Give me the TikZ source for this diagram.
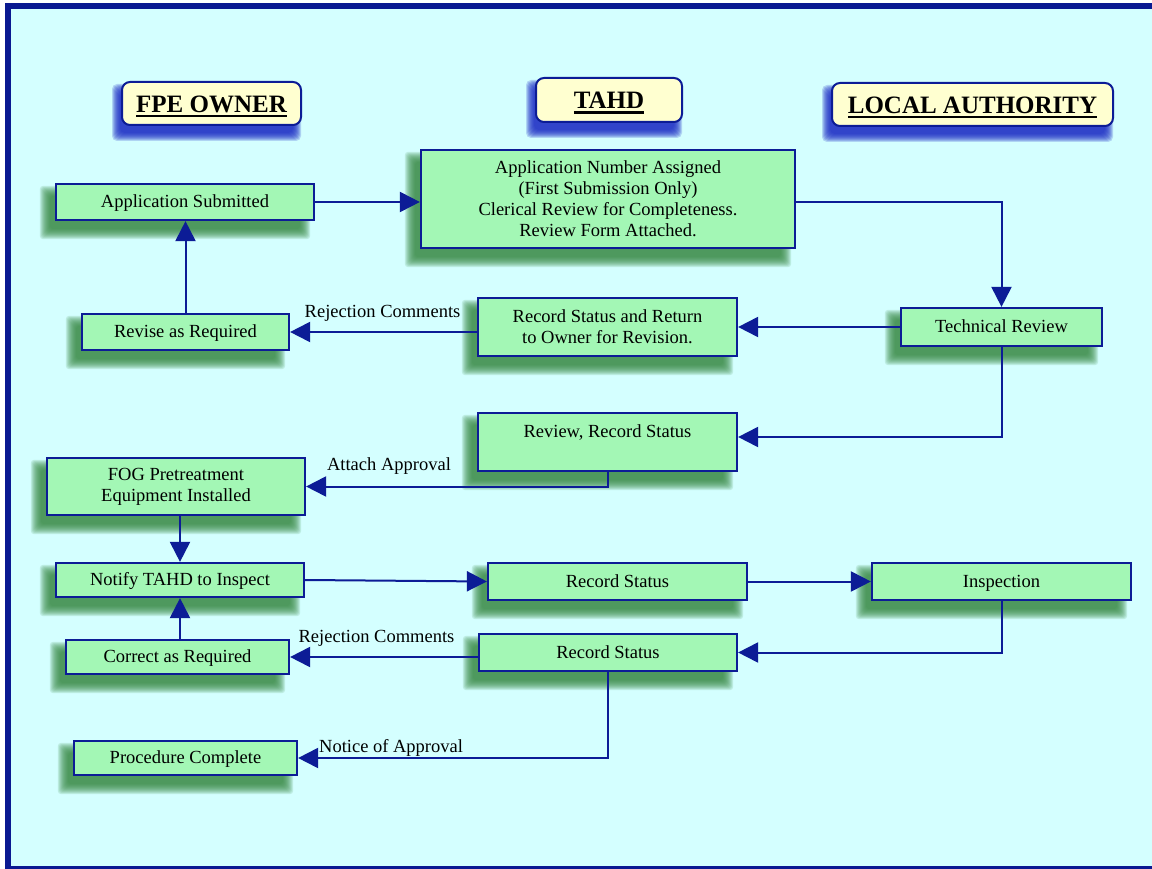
\documentclass[tikz,border=0pt]{standalone}
\usepackage{fontspec}
\setmainfont{Liberation Serif}
\usetikzlibrary{arrows.meta}
\definecolor{framebl}{RGB}{10,25,145}
\definecolor{bgcyan}{RGB}{212,255,255}
\definecolor{boxgreen}{RGB}{163,247,181}
\definecolor{shgreen}{RGB}{55,135,65}
\definecolor{hdryel}{RGB}{255,255,208}
\definecolor{shblue}{RGB}{25,40,195}
\definecolor{linebl}{RGB}{12,28,150}
\pgfdeclarelayer{back}
\pgfdeclarelayer{shad}
\pgfsetlayers{back,shad,main}
\newcommand\bxfont{\fontsize{18.5pt}{21.1pt}\selectfont}
\newcommand\hdfont{\fontsize{25pt}{30pt}\selectfont\bfseries}
\newcommand\hul[1]{\setbox0=\hbox{#1}\rlap{\smash{\rule[-4.6pt]{\wd0}{2.3pt}}}\box0}
\newcommand\gshad[1]{\foreach \e in {0,1,...,10}{\fill[shgreen,opacity=0.15,rounded corners=3pt] ([shift={(-15+\e,3+\e)}]#1.north west) rectangle ([shift={(-5-\e,18-\e)}]#1.south east);}}
\newcommand\bshad[1]{\foreach \e in {0,1,...,8}{\fill[shblue,opacity=0.2,rounded corners=5pt] ([shift={(-9+\e,3+\e)}]#1.north west) rectangle ([shift={(-1-\e,15-\e)}]#1.south east);}}
\begin{document}
\begin{tikzpicture}[x=1pt,y=-1pt,
  gbox/.style={draw=linebl, line width=2.2pt, fill=boxgreen, inner sep=0pt, font=\bxfont, align=center, text=black},
  one/.style={text height=13pt, text depth=2pt},
  hbox/.style={draw=linebl, line width=2pt, fill=hdryel, rounded corners=8pt, inner sep=0pt, font=\hdfont, text height=18pt, text depth=0pt, text=black},
  arr/.style={draw=linebl, line width=2pt, -{Triangle[length=20pt,width=20pt]}},
  lbl/.style={font=\bxfont, anchor=base, inner sep=0pt, text=black}]
\useasboundingbox (0,0) rectangle (1152,869);
\begin{pgfonlayer}{back}
\fill[white] (0,0) rectangle (1152,869);
\fill[framebl] (5,3) rectangle (1160,875);
\fill[bgcyan] (11,9) rectangle (1160,866);
\end{pgfonlayer}
% headers
\node[hbox, minimum width=179pt, minimum height=43pt] (h1) at (211.5,103.5) {\hul{FPE OWNER}};
\node[hbox, minimum width=146pt, minimum height=44pt] (h2) at (609,100) {\hul{TAHD}};
\node[hbox, minimum width=281pt, minimum height=43pt] (h3) at (972.5,104.5) {\hul{LOCAL AUTHORITY}};
% boxes
\node[gbox, one, minimum width=258pt, minimum height=36pt] (as) at (185,202) {Application Submitted};
\node[gbox, minimum width=374pt, minimum height=98pt] (an) at (608,199) {Application Number Assigned\\(First Submission Only)\\Clerical Review for Completeness.\\Review Form Attached.};
\node[gbox, one, minimum width=201pt, minimum height=38pt] (tr) at (1001.5,327) {Technical Review};
\node[gbox, one, minimum width=207pt, minimum height=36pt] (rv) at (185.5,332) {Revise as Required};
\node[gbox, minimum width=259pt, minimum height=58pt] (rr) at (607.5,327) {Record Status and Return\\to Owner for Revision.};
\node[gbox, minimum width=259pt, minimum height=58pt] (rw) at (607.5,442) {Review, Record Status\\\mbox{}};
\node[gbox, minimum width=258pt, minimum height=57pt] (fog) at (176,486.5) {FOG Pretreatment\\Equipment Installed};
\node[gbox, one, minimum width=248pt, minimum height=34pt] (nt) at (180,580) {Notify TAHD to Inspect};
\node[gbox, one, minimum width=223pt, minimum height=34pt] (ca) at (177.5,657) {Correct as Required};
\node[gbox, one, minimum width=223pt, minimum height=34pt] (pc) at (185.5,758) {Procedure Complete};
\node[gbox, one, minimum width=259pt, minimum height=37pt] (rs1) at (617.5,581.5) {Record Status};
\node[gbox, one, minimum width=259pt, minimum height=37pt] (ins) at (1001.5,581.5) {Inspection};
\node[gbox, one, minimum width=258pt, minimum height=37pt] (rs2) at (608,652.5) {Record Status};
% shadows
\begin{pgfonlayer}{shad}
\bshad{h1}\bshad{h2}\bshad{h3}
\gshad{as}\gshad{an}\gshad{tr}\gshad{rv}\gshad{rr}\gshad{rw}\gshad{fog}
\gshad{nt}\gshad{ca}\gshad{pc}\gshad{rs1}\gshad{ins}\gshad{rs2}
\end{pgfonlayer}
% connectors
\draw[arr] (as.east) -- (as.east -| an.west);
\draw[arr] ([yshift=-3pt]an.east) -| (tr.north);
\draw[arr] (tr.west) -- (rr.east);
\draw[arr] (rr.west |- rv.east) -- node[lbl, pos=0.505, yshift=14pt] {Rejection Comments} (rv.east);
\draw[arr] (rv.north) -- (rv.north |- as.south);
\draw[arr] (tr.south) |- ([yshift=5pt]rw.east);
\draw[arr] (rw.south) |- node[lbl, pos=0.8625, yshift=16pt] {Attach Approval} (fog.east);
\draw[arr] (fog.south -| nt.north) -- (nt.north);
\draw[arr] (nt.east) -- (rs1.west);
\draw[arr] (rs1.east) -- (ins.west);
\draw[arr] (ins.south) |- (rs2.east);
\draw[arr] (rs2.west |- ca.east) -- node[lbl, pos=0.54, yshift=15pt] {Rejection Comments} (ca.east);
\draw[arr] (ca.north -| nt.south) -- (nt.south);
\draw[arr] (rs2.south) |- node[lbl, pos=0.85, yshift=5.5pt] {Notice of Approval} (pc.east);
\end{tikzpicture}
\end{document}
